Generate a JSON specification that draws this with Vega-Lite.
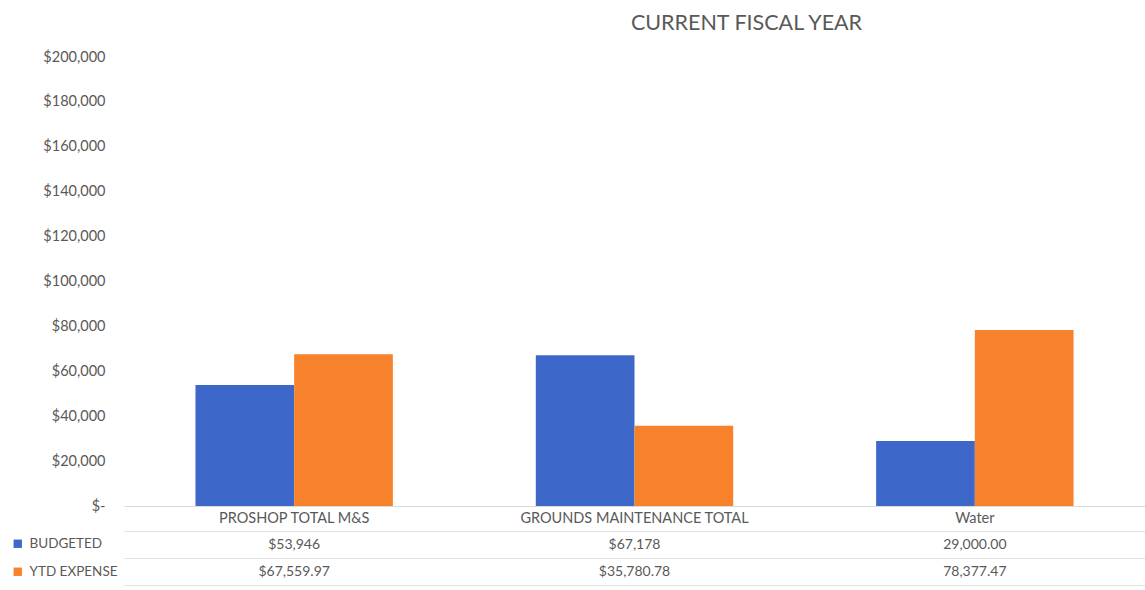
{
  "$schema": "https://vega.github.io/schema/vega-lite/v6.json",
  "background": "white",
  "padding": {"top": 12, "left": 5, "right": 5, "bottom": 5},
  "config": {"view": {"stroke": null}, "font": "Lato", "concat": {"spacing": 6}},
  "resolve": {"scale": {"color": "independent"}, "legend": {"color": "independent"}},
  "datasets": {
    "costs": [
      {"category": "PROSHOP TOTAL M&S", "series": "BUDGETED", "value": 53946, "label": "$53,946"},
      {"category": "PROSHOP TOTAL M&S", "series": "YTD EXPENSE", "value": 67559.97, "label": "$67,559.97"},
      {"category": "GROUNDS MAINTENANCE TOTAL", "series": "BUDGETED", "value": 67178, "label": "$67,178"},
      {"category": "GROUNDS MAINTENANCE TOTAL", "series": "YTD EXPENSE", "value": 35780.78, "label": "$35,780.78"},
      {"category": "Water", "series": "BUDGETED", "value": 29000, "label": "29,000.00"},
      {"category": "Water", "series": "YTD EXPENSE", "value": 78377.47, "label": "78,377.47"}
    ]
  },
  "vconcat": [
    {
      "title": {"text": "CURRENT FISCAL YEAR", "fontSize": 21.5, "fontWeight": "normal", "color": "#595959", "offset": 15, "dx": 112, "anchor": "middle"},
      "data": {"name": "costs"},
      "width": 1021,
      "height": 449,
      "mark": {"type": "bar"},
      "encoding": {
        "x": {
          "field": "category", "type": "nominal",
          "sort": ["PROSHOP TOTAL M&S", "GROUNDS MAINTENANCE TOTAL", "Water"],
          "scale": {"paddingInner": 0.42, "paddingOuter": 0.21},
          "axis": {"title": null, "labelAngle": 0, "ticks": false, "domainColor": "#d9d9d9", "labelColor": "#595959", "labelFontSize": 14.5, "labelPadding": 5, "labelLimit": 0}
        },
        "xOffset": {"field": "series", "type": "nominal", "sort": ["BUDGETED", "YTD EXPENSE"]},
        "y": {
          "field": "value", "type": "quantitative",
          "scale": {"domain": [0, 200000]},
          "axis": {
            "title": null, "grid": false, "domain": false, "ticks": false,
            "values": [0, 20000, 40000, 60000, 80000, 100000, 120000, 140000, 160000, 180000, 200000],
            "labelExpr": "datum.value === 0 ? '$-' : '$' + format(datum.value, ',')",
            "labelPadding": 19, "labelColor": "#595959", "labelFontSize": 14.5
          }
        },
        "color": {
          "field": "series", "type": "nominal",
          "scale": {"domain": ["BUDGETED", "YTD EXPENSE"], "range": ["#3d68c9", "#f8822b"]},
          "legend": null
        }
      }
    },
    {
      "data": {"name": "costs"},
      "width": 1021,
      "height": 54,
      "encoding": {
        "x": {
          "field": "category", "type": "nominal",
          "sort": ["PROSHOP TOTAL M&S", "GROUNDS MAINTENANCE TOTAL", "Water"],
          "scale": {"paddingInner": 0.42, "paddingOuter": 0.21},
          "axis": null
        },
        "y": {
          "field": "series", "type": "nominal", "sort": ["BUDGETED", "YTD EXPENSE"],
          "axis": {"title": null, "labels": false, "ticks": false, "domain": false, "grid": true, "tickBand": "extent", "gridColor": "#e3e3e3"}
        }
      },
      "layer": [
        {
          "mark": {"type": "text", "fontSize": 14, "color": "#595959"},
          "encoding": {"text": {"field": "label"}}
        },
        {
          "mark": {"type": "point", "shape": "square", "filled": true, "opacity": 0},
          "encoding": {
            "color": {
              "field": "series", "type": "nominal",
              "scale": {"domain": ["BUDGETED", "YTD EXPENSE"], "range": ["#3d68c9", "#f8822b"]},
              "legend": {"orient": "left", "title": null, "symbolType": "square", "symbolSize": 70, "labelFontSize": 13.5, "labelColor": "#595959", "rowPadding": 13, "offset": 0, "padding": 6, "labelOffset": 5}
            }
          }
        }
      ]
    }
  ]
}
